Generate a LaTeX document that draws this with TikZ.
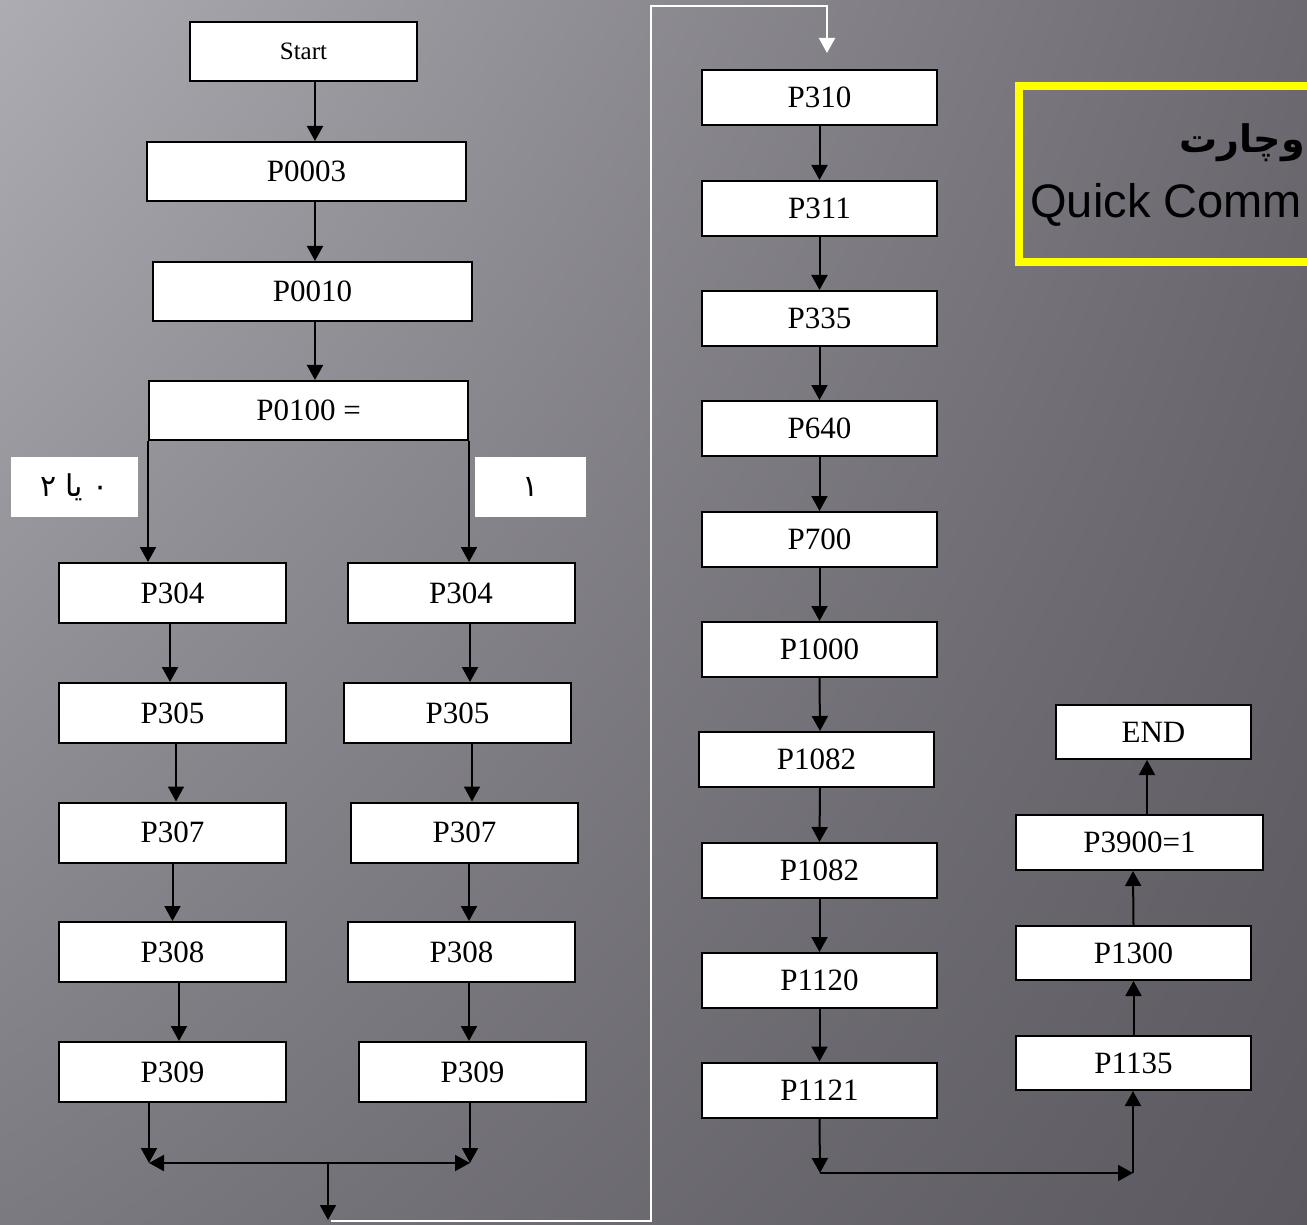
\documentclass[tikz,border=0pt]{standalone}
\usepackage{fontspec}
\setmainfont{Liberation Serif}
\newfontfamily\qcsans{Liberation Sans}
\newfontfamily\arabicfont[Script=Arabic]{DejaVu Sans}
\usetikzlibrary{arrows.meta,shadings}
\TeXXeTstate=1
\definecolor{bgUL}{HTML}{AEACB3}
\definecolor{bgUR}{HTML}{6C6A70}
\definecolor{bgLL}{HTML}{7C7A81}
\definecolor{bgLR}{HTML}{5B595F}
\definecolor{hiyellow}{HTML}{FFFF00}
\begin{document}
\begin{tikzpicture}[x=0.5pt,y=-0.5pt,
  box/.style={draw=black, fill=white, line width=1pt, inner sep=0pt, font=\fontsize{15.5}{18}\selectfont},
  lbox/.style={box, minimum width=113.5pt, minimum height=30pt},
  mbox/.style={box, minimum width=117.5pt, minimum height=27.5pt},
  arr/.style={line width=1pt, -{Triangle[length=7.5pt,width=8pt]}},
  darr/.style={line width=1pt, {Triangle[length=7.5pt,width=8pt]}-{Triangle[length=7.5pt,width=8pt]}},
  warr/.style={draw=white, line width=1pt, -{Triangle[length=7.5pt,width=8pt,fill=white]}},
  lab/.style={fill=white, inner sep=0pt, minimum height=30pt, font=\arabicfont\fontsize{15}{18}\selectfont}]
\useasboundingbox (0,0) rectangle (1307,1225);
\clip (0,0) rectangle (1307,1225);
\shade[upper left=bgUL, upper right=bgUR, lower left=bgLL, lower right=bgLR] (0,0) rectangle (1307,1225);

% yellow title box
\draw[hiyellow, line width=4pt] (1330,86) -- (1019,86) -- (1019,262) -- (1330,262);
\node[anchor=base east, inner sep=0pt, font=\arabicfont\bfseries\fontsize{19}{23}\selectfont] (fa) at (1305,153) {\beginR وچارت\endR};
\node[anchor=base west, inner sep=0pt, font=\qcsans\fontsize{23.5}{27}\selectfont] (qc) at (1030,218) {Quick Comm};

% top chain
\node[box, minimum width=113.5pt, minimum height=29.5pt, font=\fontsize{12.5}{15}\selectfont] (start) at (303.5,51.5) {Start};
\node[box, minimum width=159.5pt, minimum height=29.5pt] (p3) at (306.5,171.5) {P0003};
\node[box, minimum width=159.5pt, minimum height=29.5pt] (p10) at (312.5,291.5) {P0010};
\node[box, minimum width=159.5pt, minimum height=29.5pt] (p100) at (308.5,410.5) {P0100 =};
\draw[arr] ([xshift=5.75pt]start.south) -- ([xshift=4.25pt]p3.north);
\draw[arr] ([xshift=4.25pt]p3.south) -- ([xshift=1.25pt]p10.north);
\draw[arr] ([xshift=1.25pt]p10.south) -- ([xshift=3.25pt]p100.north);

% labels
\node[lab, minimum width=63.5pt] (lab1) at (74.5,487) {\beginR ۰ یا ۲\endR};
\node[lab, minimum width=55.5pt] (lab2) at (530.5,487) {\beginR ۱\endR};

% left column
\node[lbox] (L304) at (172.5,593) {P304};
\node[lbox] (L305) at (172.5,713) {P305};
\node[lbox] (L307) at (172.5,832.5) {P307};
\node[lbox] (L308) at (172.5,952) {P308};
\node[lbox] (L309) at (172.5,1072) {P309};
% right column
\node[lbox] (R304) at (461,593) {P304};
\node[lbox] (R305) at (457.5,713) {P305};
\node[lbox] (R307) at (464.5,832.5) {P307};
\node[lbox] (R308) at (461.5,952) {P308};
\node[lbox] (R309) at (472.5,1072) {P309};

\draw[arr] (p100.south west) -- (p100.south west |- L304.north);
\draw[arr] (p100.south east) -- (p100.south east |- R304.north);

\draw[arr] ([xshift=-1.25pt]L304.south) -- ([xshift=-1.25pt]L305.north);
\draw[arr] ([xshift=1.75pt]L305.south) -- ([xshift=1.75pt]L307.north);
\draw[arr] (L307.south) -- (L308.north);
\draw[arr] ([xshift=3.25pt]L308.south) -- ([xshift=3.25pt]L309.north);

\draw[arr] ([xshift=4.5pt]R304.south) -- ([xshift=6.25pt]R305.north);
\draw[arr] ([xshift=7.25pt]R305.south) -- ([xshift=3.75pt]R307.north);
\draw[arr] ([xshift=2.25pt]R307.south) -- ([xshift=3.75pt]R308.north);
\draw[arr] ([xshift=3.75pt]R308.south) -- ([xshift=-1.75pt]R309.north);

% bottom join
\coordinate (jl) at (149,1163);
\coordinate (jr) at (470,1163);
\coordinate (jm) at (328,1163);
\coordinate (jb) at (328,1220);
\draw[arr] ([xshift=-11.75pt]L309.south) -- (jl);
\draw[arr] ([xshift=-1.25pt]R309.south) -- (jr);
\draw[darr] (jl) -- (jr);
\draw[arr] (jm) -- (jb);

% white connector
\coordinate (w1) at (331,1221);
\coordinate (w2) at (651,1221);
\coordinate (w4) at (827,6);
\coordinate (w5) at (827,53);
\draw[warr] (w1) -- (w2) |- (w4) -- (w5);

% middle column
\node[mbox] (M310) at (819.5,97.5) {P310};
\node[mbox] (M311) at (819.5,208.5) {P311};
\node[mbox] (M335) at (819.5,318.5) {P335};
\node[mbox] (M640) at (819.5,428.5) {P640};
\node[mbox] (M700) at (819.5,539.5) {P700};
\node[mbox] (M1000) at (819.5,649.5) {P1000};
\node[mbox] (M1082a) at (816.5,759.5) {P1082};
\node[mbox] (M1082b) at (819.5,870.5) {P1082};
\node[mbox] (M1120) at (819.5,980.5) {P1120};
\node[mbox] (M1121) at (819.5,1090) {P1121};
\draw[arr] (M310) -- (M311);
\draw[arr] (M311) -- (M335);
\draw[arr] (M335) -- (M640);
\draw[arr] (M640) -- (M700);
\draw[arr] (M700) -- (M1000);
\draw[arr] (M1000.south) -- ([xshift=1.75pt]M1082a.north);
\draw[arr] ([xshift=1.75pt]M1082a.south) -- (M1082b.north);
\draw[arr] (M1082b) -- (M1120);
\draw[arr] (M1120) -- (M1121);

% right-most column
\node[box, minimum width=97.5pt, minimum height=27pt] (END) at (1153.5,732) {END};
\node[box, minimum width=123.5pt, minimum height=27.5pt] (E3900) at (1139.5,842.5) {P3900=1};
\node[box, minimum width=117.5pt, minimum height=27pt] (E1300) at (1133.5,953) {P1300};
\node[box, minimum width=117.5pt, minimum height=27pt] (E1135) at (1133.5,1063) {P1135};
\draw[arr] (E1135) -- (E1300);
\draw[arr] (E1300.north) -- ([xshift=-3.25pt]E3900.south);
\draw[arr] ([xshift=3.75pt]E3900.north) -- ([xshift=-3.25pt]END.south);

\coordinate (br1) at (820,1173);
\coordinate (br2) at (1133,1173);
\draw[arr] (M1121.south) -- (br1);
\draw[arr] (br1) -- (br2);
\draw[arr] (br2) -- (br2 |- E1135.south);
\end{tikzpicture}
\end{document}
